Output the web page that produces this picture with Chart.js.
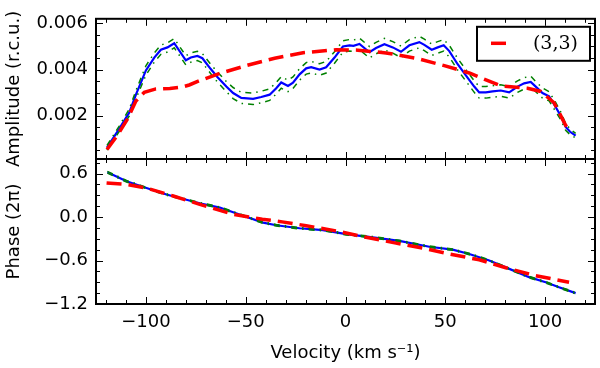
<!DOCTYPE html>
<html>
<head>
<meta charset="utf-8">
<script src="https://cdn.jsdelivr.net/npm/chart.js@4"></script>
<style>
  body { margin: 0; background: #fff; }
  #wrap { position: relative; width: 600px; height: 368px; }
  #wrap canvas { position: absolute; left: 0; top: 0; }
</style>
</head>
<body>
<div id="wrap">
  <canvas id="amp" width="600" height="368"></canvas>
  <canvas id="phase" width="600" height="368"></canvas>
</div>
<script>
// amplitude, observed line (blue) with its error band (green)
const ampVel = [-119.5, -113.3, -108.3, -105, -100, -95.8, -92.5, -89.2, -85.8, -80, -77.5, -74.2, -71.7, -67.5, -64.2, -59.7, -56.3, -52.2, -46.3, -42.2, -38, -34.7, -32.2, -28.8, -26.3, -23, -19.7, -17.2, -13, -9.7, -5.5, -1.3, 2, 4, 7, 12, 15.3, 19.5, 23.7, 27.8, 32, 37, 39.5, 43.2, 46.2, 49.2, 52, 56.2, 60.3, 64.5, 67, 70.3, 73.7, 77.8, 82, 86.2, 89.5, 92.8, 95.3, 98.7, 102, 105, 107.8, 110.3, 112.5, 115.3];
const ampObs = [0.00061, 0.00144, 0.00214, 0.00291, 0.00396, 0.00452, 0.00486, 0.00496, 0.00514, 0.0044, 0.00452, 0.00459, 0.00449, 0.00402, 0.00368, 0.00326, 0.00298, 0.00277, 0.00273, 0.00281, 0.00291, 0.00319, 0.00344, 0.00329, 0.00343, 0.00379, 0.00405, 0.0041, 0.004, 0.0041, 0.00452, 0.005, 0.00505, 0.00503, 0.00511, 0.00475, 0.00493, 0.0051, 0.00496, 0.00477, 0.00505, 0.00519, 0.00507, 0.00486, 0.00496, 0.00505, 0.0048, 0.00423, 0.00375, 0.00326, 0.00301, 0.00301, 0.00305, 0.00309, 0.00301, 0.00326, 0.0034, 0.00346, 0.00326, 0.00298, 0.00284, 0.00242, 0.002, 0.00151, 0.0013, 0.00113];
const ampHi = [0.00071, 0.00156, 0.00229, 0.00309, 0.00416, 0.00472, 0.00506, 0.00516, 0.00534, 0.0046, 0.00472, 0.00479, 0.00469, 0.00422, 0.0039, 0.00348, 0.00322, 0.00301, 0.00298, 0.00306, 0.00316, 0.00344, 0.00369, 0.00354, 0.00368, 0.00404, 0.0043, 0.00435, 0.00425, 0.00435, 0.00477, 0.00525, 0.0053, 0.00528, 0.00536, 0.005, 0.00518, 0.00535, 0.00521, 0.00502, 0.0053, 0.00544, 0.00532, 0.00511, 0.00521, 0.0053, 0.00505, 0.00448, 0.004, 0.00351, 0.00326, 0.00326, 0.0033, 0.00334, 0.00326, 0.00351, 0.00365, 0.00371, 0.00348, 0.0032, 0.00304, 0.00262, 0.00217, 0.00166, 0.00142, 0.00123];
const ampLo = [0.00051, 0.00132, 0.00199, 0.00273, 0.00376, 0.00432, 0.00466, 0.00476, 0.00494, 0.0042, 0.00432, 0.00439, 0.00429, 0.00382, 0.00346, 0.00304, 0.00274, 0.00253, 0.00248, 0.00256, 0.00266, 0.00294, 0.00319, 0.00304, 0.00318, 0.00354, 0.0038, 0.00385, 0.00375, 0.00385, 0.00427, 0.00475, 0.0048, 0.00478, 0.00486, 0.0045, 0.00468, 0.00485, 0.00471, 0.00452, 0.0048, 0.00494, 0.00482, 0.00461, 0.00471, 0.0048, 0.00455, 0.00398, 0.0035, 0.00301, 0.00276, 0.00276, 0.0028, 0.00284, 0.00276, 0.00301, 0.00315, 0.00321, 0.00304, 0.00276, 0.00264, 0.00222, 0.00183, 0.00136, 0.00118, 0.00103];

// amplitude of the (3,3) model (red dashed)
const fitVel = [-119.5, -114.2, -109.2, -105, -100.8, -95, -88, -82, -78.3, -73.3, -63.3, -49.7, -35.5, -21.3, -4.7, 6.2, 20.3, 35.3, 49.5, 62, 77.8, 91.2, 97.8, 104.5, 110.3, 112];
const ampFit = [0.00053, 0.00116, 0.00186, 0.00263, 0.00301, 0.00316, 0.00318, 0.00324, 0.00333, 0.00351, 0.00382, 0.00417, 0.00449, 0.00473, 0.00486, 0.00484, 0.00472, 0.00449, 0.00417, 0.00385, 0.00329, 0.00319, 0.00305, 0.00256, 0.00158, 0.00137];

// phase, observed (blue) with band (green)
const phaseVel = [-119.3, -109.7, -99.7, -89.7, -73, -63, -51.3, -41.3, -34.7, -23, -11.3, 0.3, 13.7, 27, 42, 53.7, 62, 72, 80.3, 92, 100.3, 107, 115.3];
const phaseObs = [0.618, 0.494, 0.40, 0.31, 0.19, 0.13, 0.018, -0.077, -0.114, -0.155, -0.18, -0.237, -0.28, -0.33, -0.41, -0.45, -0.51, -0.60, -0.695, -0.83, -0.90, -0.97, -1.05];
const phaseHi = [0.63, 0.505, 0.41, 0.32, 0.2, 0.14, 0.028, -0.067, -0.104, -0.145, -0.17, -0.227, -0.27, -0.32, -0.4, -0.44, -0.5, -0.59, -0.685, -0.82, -0.89, -0.96, -1.04];
const phaseLo = [0.606, 0.483, 0.39, 0.3, 0.18, 0.12, 0.008, -0.087, -0.124, -0.165, -0.19, -0.247, -0.29, -0.34, -0.42, -0.46, -0.52, -0.61, -0.705, -0.84, -0.91, -0.98, -1.06];

// phase of the (3,3) model
const phaseFitVel = [-119.7, -109.7, -99.7, -86.3, -73, -56.3, -41.7, -31.7, -19.7, -3, 10.3, 25.3, 38.7, 52, 67, 80.3, 93.7, 112];
const phaseFit = [0.47, 0.45, 0.40, 0.29, 0.174, 0.037, -0.03, -0.067, -0.12, -0.2, -0.28, -0.36, -0.43, -0.51, -0.59, -0.70, -0.80, -0.90];

const velTicks = [-100, -50, 0, 50, 100];
const ampTicks = [0.002, 0.004, 0.006];
const phaseTicks = [-1.2, -0.6, 0.0, 0.6];

Chart.defaults.font.family = "'DejaVu Sans', sans-serif";
Chart.defaults.font.size = 18;
Chart.defaults.color = "#000";
Chart.defaults.animation = false;

const pts = (xs, ys) => xs.map((x, i) => ({ x, y: ys[i] }));
const minus = (s) => s.replace("-", "\u2212");

// matplotlib style: box round the axes, ticks pointing inward on every side
const frame = {
  id: "frame",
  afterDatasetsDraw(chart, args, opts) {
    const { ctx, chartArea: a } = chart;
    const xs = chart.scales.x, ys = chart.scales.y;
    ctx.save();
    ctx.strokeStyle = "#000";
    ctx.lineWidth = 1;
    const vals = (min, max, step) => {
      const out = [];
      for (let v = Math.ceil(min / step - 1e-6) * step; v <= max + 1e-9; v += step) out.push(v);
      return out;
    };
    const tick = (v, len, horiz) => {
      ctx.beginPath();
      if (horiz) {
        const p = Math.round(xs.getPixelForValue(v)) + 0.5;
        ctx.moveTo(p, a.bottom); ctx.lineTo(p, a.bottom - len);
        ctx.moveTo(p, a.top); ctx.lineTo(p, a.top + len);
      } else {
        const p = Math.round(ys.getPixelForValue(v)) + 0.5;
        ctx.moveTo(a.left, p); ctx.lineTo(a.left + len, p);
        ctx.moveTo(a.right, p); ctx.lineTo(a.right - len, p);
      }
      ctx.stroke();
    };
    vals(xs.min, xs.max, opts.xMinor).forEach((v) => tick(v, 4, true));
    velTicks.forEach((v) => tick(v, 7, true));
    vals(ys.min, ys.max, opts.yMinor).forEach((v) => tick(v, 4, false));
    opts.yMajor.forEach((v) => tick(v, 7, false));
    ctx.lineWidth = 2;
    ctx.strokeRect(a.left, a.top, a.width, a.height);
    ctx.restore();
  },
};

const legendBox = {
  id: "legendBox",
  afterDraw(chart) {
    const { ctx, chartArea: a } = chart;
    const ds = chart.data.datasets[0];
    const left = a.right - 118, top = a.top + 8, w = 113, h = 34;
    ctx.save();
    ctx.fillStyle = "#fff";
    ctx.fillRect(left, top, w, h);
    ctx.strokeStyle = "#000";
    ctx.lineWidth = 2;
    ctx.strokeRect(left, top, w, h);
    ctx.strokeStyle = ds.borderColor;
    ctx.lineWidth = 3.5;
    ctx.beginPath();
    ctx.moveTo(left + 14, top + 16.5);
    ctx.lineTo(left + 29, top + 16.5);
    ctx.stroke();
    ctx.fillStyle = "#000";
    ctx.font = "19px 'DejaVu Serif', serif";
    ctx.textAlign = "right";
    ctx.textBaseline = "middle";
    ctx.fillText(ds.label, left + w - 12, top + 17);
    ctx.restore();
  },
};

function makeSets(fitX, fitY, vel, obs, hi, lo) {
  const band = { borderColor: "#008000", borderWidth: 1.5, borderDash: [6, 5, 1.5, 5], pointRadius: 0 };
  return [
    { label: "(3,3)", data: pts(fitX, fitY), borderColor: "#ff0000", borderWidth: 3.5, borderDash: [15, 7], pointRadius: 0 },
    { label: "upper", data: pts(vel, hi), ...band },
    { label: "lower", data: pts(vel, lo), ...band },
    { label: "observed", data: pts(vel, obs), borderColor: "#0000ff", borderWidth: 2.2, pointRadius: 0 },
  ];
}

const xBase = {
  type: "linear",
  min: -125,
  max: 125,
  grid: { display: false, drawTicks: false },
  border: { display: false },
};

new Chart(document.getElementById("amp"), {
  type: "line",
  data: { datasets: makeSets(fitVel, ampFit, ampVel, ampObs, ampHi, ampLo) },
  options: {
    responsive: false,
    layout: { padding: { top: 14, right: 5, bottom: 209, left: 0 } },
    plugins: {
      legend: { display: false },
      tooltip: { enabled: false },
      frame: { xMinor: 10, yMinor: 0.0005, yMajor: ampTicks },
    },
    scales: {
      x: { ...xBase, display: false },
      y: {
        min: 0.00012,
        max: 0.0062,
        grid: { display: false, drawTicks: false },
        border: { display: false },
        afterBuildTicks: (s) => { s.ticks = ampTicks.map((v) => ({ value: v })); },
        afterFit: (s) => { s.width = 96; },
        ticks: { padding: 8, callback: (v) => v.toFixed(3) },
        title: { display: true, text: "Amplitude (r.c.u.)", font: { size: 18 } },
      },
    },
  },
  plugins: [frame, legendBox],
});

new Chart(document.getElementById("phase"), {
  type: "line",
  data: { datasets: makeSets(phaseFitVel, phaseFit, phaseVel, phaseObs, phaseHi, phaseLo) },
  options: {
    responsive: false,
    layout: { padding: { top: 159, right: 5, bottom: 0, left: 0 } },
    plugins: {
      legend: { display: false },
      tooltip: { enabled: false },
      frame: { xMinor: 10, yMinor: 0.15, yMajor: phaseTicks },
    },
    scales: {
      x: {
        ...xBase,
        afterBuildTicks: (s) => { s.ticks = velTicks.map((v) => ({ value: v })); },
        afterFit: (s) => { s.height = 64; },
        ticks: { padding: 8, maxRotation: 0, callback: (v) => minus(String(v)) },
        title: { display: true, text: "Velocity (km s\u207B\u00B9)", font: { size: 18 } },
      },
      y: {
        min: -1.2,
        max: 0.8,
        grid: { display: false, drawTicks: false },
        border: { display: false },
        afterBuildTicks: (s) => { s.ticks = phaseTicks.map((v) => ({ value: v })); },
        afterFit: (s) => { s.width = 96; },
        ticks: { padding: 8, callback: (v) => minus(v.toFixed(1)) },
        title: { display: true, text: "Phase (2\u03C0)", font: { size: 18 } },
      },
    },
  },
  plugins: [frame],
});
</script>
</body>
</html>
